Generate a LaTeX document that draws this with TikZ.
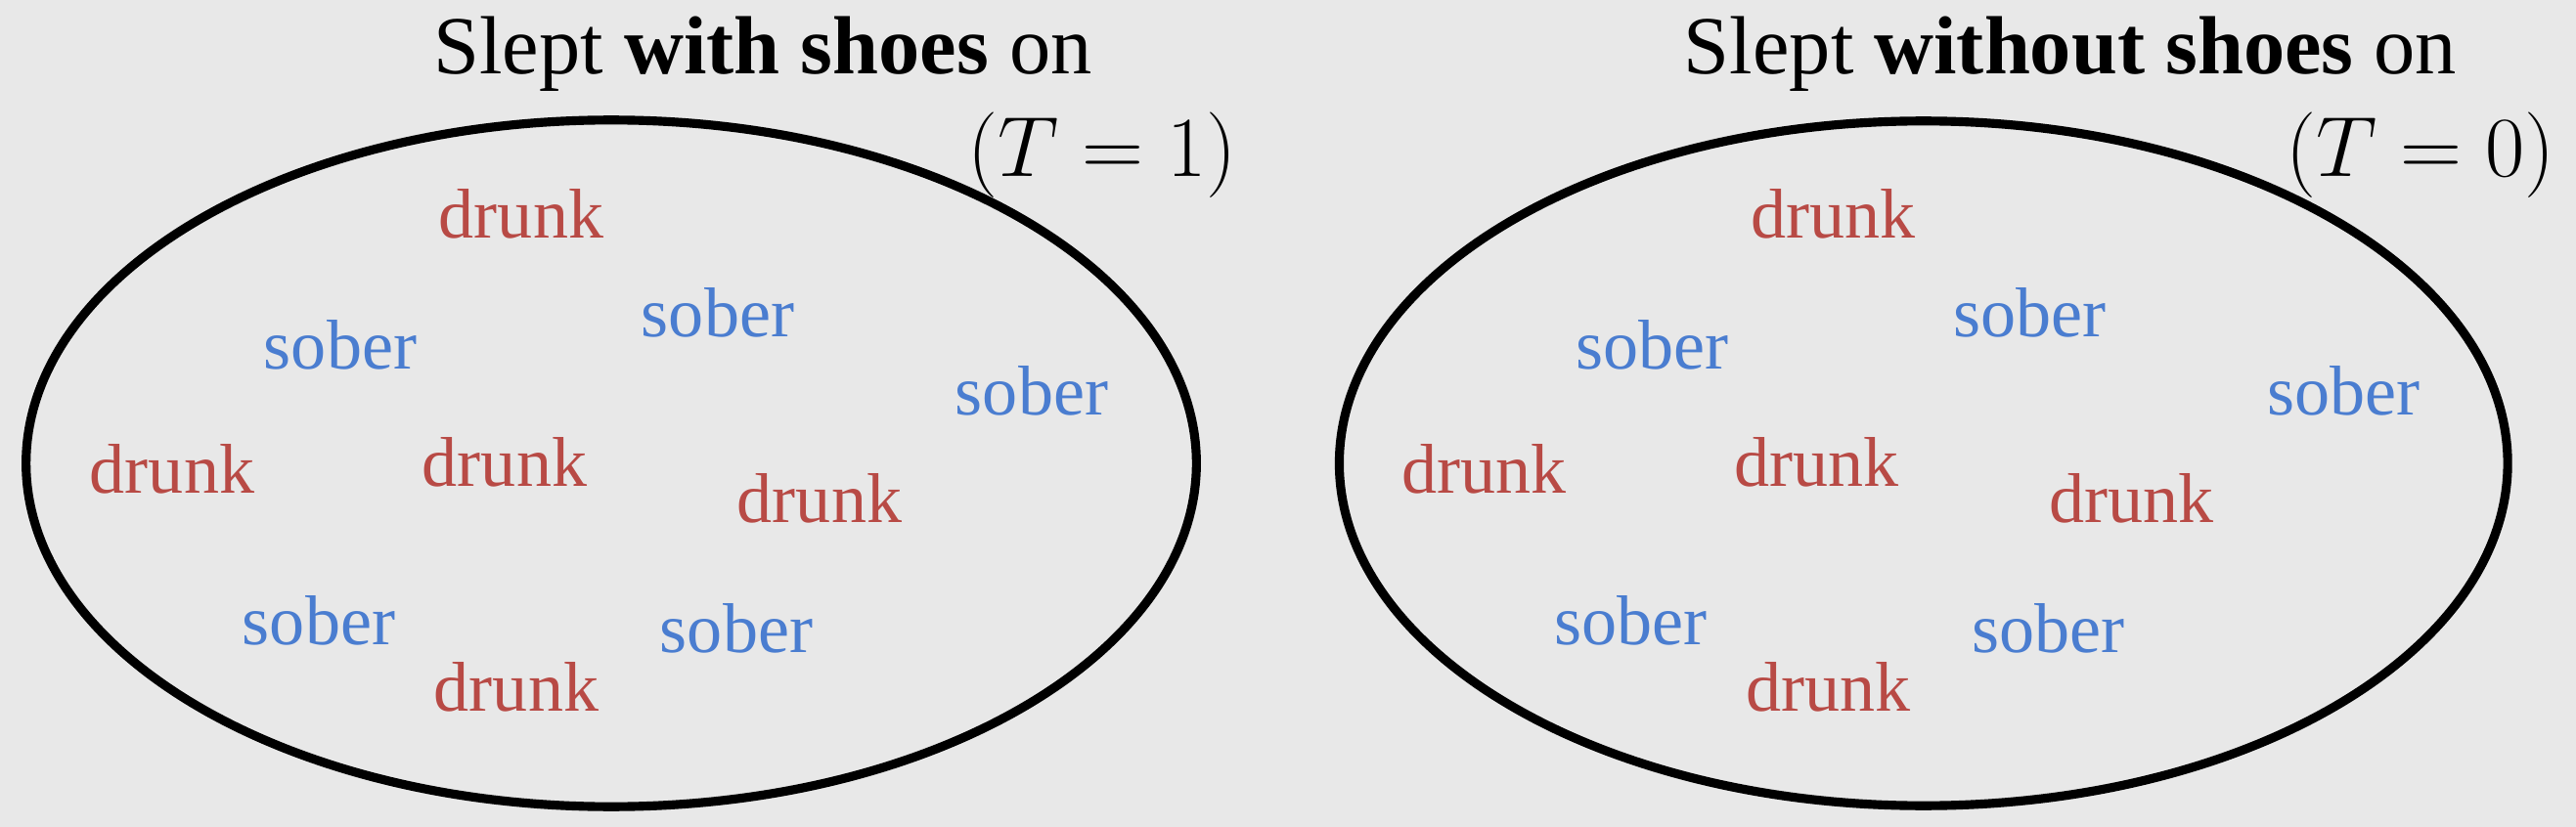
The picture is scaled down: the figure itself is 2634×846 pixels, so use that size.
\documentclass[tikz,border=0pt]{standalone}
\usepackage{fontspec}
\setmainfont{Liberation Serif}
\usepackage{tikz}
\definecolor{paper}{HTML}{E8E8E8}
\definecolor{drunkred}{HTML}{B84A45}
\definecolor{soberblue}{HTML}{4A7DD0}
\tikzset{
  pool/.style={draw=black, line width=2.6pt},
  head/.style={anchor=base, font=\fontsize{24}{28}\selectfont, inner sep=0pt},
  tee/.style={anchor=base, font=\fontsize{24}{28}\selectfont, inner sep=0pt},
  drunkw/.style={anchor=base, text=drunkred, font=\fontsize{20.5}{24}\selectfont, inner sep=0pt},
  soberw/.style={anchor=base, text=soberblue, font=\fontsize{20.5}{24}\selectfont, inner sep=0pt}
}

\begin{document}
\begin{tikzpicture}[x=0.01cm, y=-0.01cm]
\fill[paper] (0,0) rectangle (2634,846);
\useasboundingbox (0,0) rectangle (2634,846);
% left group: slept with shoes on
\draw[pool] (625,474) ellipse [x radius=5.98cm, y radius=3.51cm];
\node[head] (wtitle) at (780,76) {Slept \textbf{with shoes} on};
\node[tee] (wt) at (1127,181) {$(T=1)$};
\foreach \n/\x/\y in {a/533/244, b/176/504, c/516/497, d/838/534, e/528/727}
  \node[drunkw] (wd\n) at (\x,\y) {drunk};
\foreach \n/\x/\y in {a/348/378, b/734/344, c/1055/425, d/326/659, e/753/667}
  \node[soberw] (ws\n) at (\x,\y) {sober};
% right group: slept without shoes on
\begin{scope}[xshift=13.41cm]
\draw[pool] (625,474) ellipse [x radius=5.97cm, y radius=3.50cm];
\foreach \n/\x/\y in {a/533/244, b/176/504, c/516/497, d/838/534, e/528/727}
  \node[drunkw] (od\n) at (\x,\y) {drunk};
\foreach \n/\x/\y in {a/348/378, b/734/344, c/1055/425, d/326/659, e/753/667}
  \node[soberw] (os\n) at (\x,\y) {sober};
\end{scope}
\node[head] (otitle) at (2117,76) {Slept \textbf{without shoes} on};
\node[tee] (ot) at (2475,181) {$(T=0)$};
\end{tikzpicture}
\end{document}
